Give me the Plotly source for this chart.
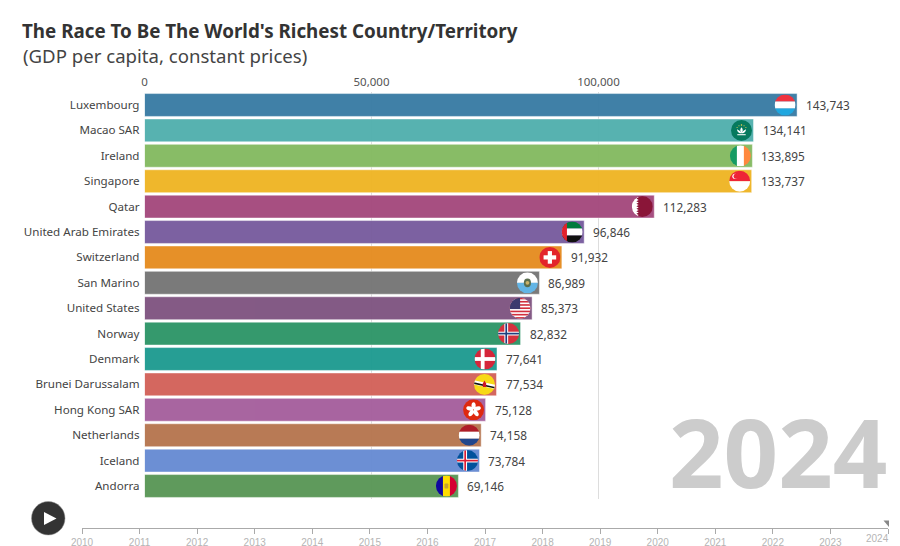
import base64
import plotly.graph_objects as go

countries = ['Luxembourg', 'Macao SAR', 'Ireland', 'Singapore', 'Qatar', 'United Arab Emirates',
             'Switzerland', 'San Marino', 'United States', 'Norway', 'Denmark', 'Brunei Darussalam',
             'Hong Kong SAR', 'Netherlands', 'Iceland', 'Andorra']
gdp = [143743, 134141, 133895, 133737, 112283, 96846, 91932, 86989,
       85373, 82832, 77641, 77534, 75128, 74158, 73784, 69146]
bar_colors = ['#3a7ca5', '#52b0ae', '#85ba62', '#efb526', '#a54a7d', '#785c9e', '#e68d22', '#767676',
              '#805582', '#2f9669', '#1f9b91', '#d3635a', '#a6609d', '#b67650', '#688cd3', '#5a9757']
years = list(range(2010, 2025))
axis_ticks = [0, 50000, 100000]

W, H = 900, 546
PX_PER_UNIT = 4.54 / 1000
TEXT = '#444444'
FONT = 'Noto Sans'


def stripes_h(*cols):
    h = 100 / len(cols)
    return ''.join(f'<rect y="{i * h}" width="100" height="{h + 0.5}" fill="{c}"/>' for i, c in enumerate(cols))


def stripes_v(*cols):
    w = 100 / len(cols)
    return ''.join(f'<rect x="{i * w}" width="{w + 0.5}" height="100" fill="{c}"/>' for i, c in enumerate(cols))


def nordic(bg, outer, inner=None):
    s = f'<rect width="100" height="100" fill="{bg}"/>'
    s += f'<rect x="30" width="18" height="100" fill="{outer}"/><rect y="41" width="100" height="18" fill="{outer}"/>'
    if inner:
        s += f'<rect x="35" width="8" height="100" fill="{inner}"/><rect y="46" width="100" height="8" fill="{inner}"/>'
    return s


us_stripes = ''.join(f'<rect y="{i * 15.4}" width="100" height="7.7" fill="#d22f3d"/>' for i in range(7))
flag_art = {
    'Luxembourg': stripes_h('#ef3340', '#ffffff', '#1fa7e0'),
    'Macao SAR': '<rect width="100" height="100" fill="#067a5e"/>'
                 '<path d="M50 35 C42 45 42 55 50 62 C58 55 58 45 50 35Z" fill="#fff"/>'
                 '<path d="M28 44 C30 58 40 64 50 64 C60 64 70 58 72 44 C62 48 56 54 50 60 C44 54 38 48 28 44Z" fill="#fff"/>'
                 '<rect x="30" y="68" width="40" height="5" fill="#fff"/>'
                 '<circle cx="50" cy="24" r="3.5" fill="#f7d84a"/><circle cx="38" cy="28" r="2.5" fill="#f7d84a"/>'
                 '<circle cx="62" cy="28" r="2.5" fill="#f7d84a"/><circle cx="29" cy="36" r="2.5" fill="#f7d84a"/>'
                 '<circle cx="71" cy="36" r="2.5" fill="#f7d84a"/>',
    'Ireland': stripes_v('#169b62', '#ffffff', '#ff883e'),
    'Singapore': stripes_h('#ee2536', '#ffffff')
                 + '<circle cx="28" cy="27" r="13" fill="#fff"/><circle cx="33" cy="27" r="12" fill="#ee2536"/>',
    'Qatar': '<rect width="100" height="100" fill="#8a1538"/>'
             '<path d="M0 0H22L33 6 22 12 33 18 22 24 33 30 22 36 33 42 22 48 33 54 22 60 33 66 22 72 33 78 22 84 33 90 22 100H0Z" fill="#fff"/>',
    'United Arab Emirates': stripes_h('#007a3d', '#ffffff', '#111111')
                            + '<rect width="25" height="100" fill="#e2202c"/>',
    'Switzerland': '<rect width="100" height="100" fill="#e3242b"/>'
                   '<rect x="40" y="20" width="20" height="60" fill="#fff"/><rect x="20" y="40" width="60" height="20" fill="#fff"/>',
    'San Marino': stripes_h('#ffffff', '#63b5e5')
                  + '<ellipse cx="50" cy="50" rx="17" ry="21" fill="#5a6e4e"/><circle cx="50" cy="50" r="9" fill="#c9b26a"/>',
    'United States': '<rect width="100" height="100" fill="#fff"/>' + us_stripes
                     + '<rect width="50" height="54" fill="#3c3b6e"/>',
    'Norway': nordic('#d5313d', '#ffffff', '#1f3f7f'),
    'Denmark': nordic('#d5263a', '#ffffff'),
    'Brunei Darussalam': '<rect width="100" height="100" fill="#f7d917"/>'
                         '<path d="M0 30 L100 52 V72 L0 50Z" fill="#fff"/><path d="M0 40 L100 62 V70 L0 48Z" fill="#111"/>'
                         '<path d="M50 32 L58 46 V62 H42 V46Z" fill="#cf1126"/>',
    'Hong Kong SAR': '<rect width="100" height="100" fill="#de2910"/>'
                     + ''.join(f'<ellipse cx="50" cy="31" rx="10" ry="17" fill="#fff" transform="rotate({a} 50 50)"/>'
                               for a in (0, 72, 144, 216, 288)),
    'Netherlands': stripes_h('#ae1c28', '#ffffff', '#21468b'),
    'Iceland': nordic('#02529c', '#ffffff', '#dc1e35'),
    'Andorra': stripes_v('#10069f', '#fedd00', '#d50032')
               + '<rect x="41" y="38" width="18" height="24" rx="4" fill="#c7a12e"/>',
}


def flag_uri(name):
    svg = ('<svg xmlns="http://www.w3.org/2000/svg" viewBox="0 0 100 100" width="100" height="100">'
           '<defs><clipPath id="c"><circle cx="50" cy="50" r="50"/></clipPath></defs>'
           f'<g clip-path="url(#c)">{flag_art[name]}</g></svg>')
    return 'data:image/svg+xml;base64,' + base64.b64encode(svg.encode()).decode()


# the page adds its own margin around the graph div, so work in page pixels minus that offset
PAGE_OFF = 8
FIG_W, FIG_H = W - 2 * PAGE_OFF, H - PAGE_OFF


def px(x):
    return (x - PAGE_OFF) / FIG_W


def py(y):
    return 1 - (y - PAGE_OFF) / FIG_H


bar_left, bar_right = 144.5, 885
top, bottom = 92.3, 498.7
x_max = (bar_right - bar_left) / PX_PER_UNIT

fig = go.Figure()
fig.add_trace(go.Bar(
    x=gdp,
    y=countries,
    orientation='h',
    marker=dict(color=bar_colors, opacity=0.97, line=dict(color='rgba(255,255,255,0.45)', width=1)),
    hoverinfo='skip',
))
# timeline along the bottom
fig.add_trace(go.Scatter(x=years, y=[0] * len(years), mode='none', xaxis='x2', yaxis='y2', hoverinfo='skip'))

annotations = [
    dict(text='(GDP per capita, constant prices)', xref='paper', yref='paper', x=px(20.5), y=py(56),
         xanchor='left', yanchor='middle', showarrow=False, font=dict(family=FONT, size=18.6, color=TEXT)),
    dict(text='2024', xref='paper', yref='paper', x=px(888.5), y=py(451), xanchor='right', yanchor='middle',
         showarrow=False, font=dict(family='Open Sans', size=95.5, color='#cccccc', weight='bold')),
    dict(text='2024', xref='x2', yref='paper', x=2024, y=py(538), xanchor='right', yanchor='middle', xshift=3,
         showarrow=False, font=dict(family='Liberation Sans', size=10, color='#b5b5b5')),
]
images = []
for name, val in zip(countries, gdp):
    annotations.append(dict(text=f'{val:,}', x=val, y=name, xref='x', yref='y', xanchor='left', yanchor='middle',
                            xshift=7, showarrow=False, font=dict(family=FONT, size=11.8, color=TEXT)))
    images.append(dict(source=flag_uri(name), x=val - 1.5 / PX_PER_UNIT, y=name, xref='x', yref='y',
                       xanchor='right', yanchor='middle', sizex=21 / PX_PER_UNIT, sizey=21 / 25.4,
                       sizing='stretch', layer='above'))

shapes = [
    dict(type='circle', xref='paper', yref='paper', x0=px(31.5), x1=px(65), y0=py(535), y1=py(501.5),
         fillcolor='#333333', line=dict(color='#999999', width=0.5)),
    dict(type='path', xref='paper', yref='paper', fillcolor='#ffffff', line=dict(width=0),
         path=f'M{px(44)},{py(512)} L{px(56.5)},{py(518.5)} L{px(44)},{py(525)}Z'),
    dict(type='path', xref='paper', yref='paper', fillcolor='#888888', line=dict(width=0),
         path=f'M{px(883.5)},{py(520.5)} L{px(889)},{py(520.5)} L{px(889)},{py(527)}Z'),
]

fig.update_layout(
    width=FIG_W, height=FIG_H,
    margin=dict(l=0, r=0, t=0, b=0, pad=0, autoexpand=False),
    paper_bgcolor='white',
    plot_bgcolor='white',
    showlegend=False,
    bargap=0.1,
    title=dict(text="<b>The Race To Be The World's Richest Country/Territory</b>", xref='paper', yref='paper',
               x=px(22), y=py(31), xanchor='left', yanchor='middle', automargin=False,
               font=dict(family=FONT, size=18.8, color='#333333')),
    xaxis=dict(domain=[px(bar_left), px(bar_right)], range=[0, x_max], side='top', tickvals=axis_ticks,
               tickformat=',', showgrid=True, gridcolor='#dddddd', gridwidth=1, zeroline=False, showline=False,
               ticks='', tickfont=dict(family=FONT, size=11.5, color='#555555'), ticklabelstandoff=3,
               anchor='y', automargin=False),
    yaxis=dict(domain=[py(bottom), py(top)], type='category', categoryorder='array', categoryarray=countries,
               autorange='reversed', showgrid=False, zeroline=False, showline=False, ticks='',
               tickfont=dict(family=FONT, size=11.6, color=TEXT), ticklabelstandoff=4, anchor='x', automargin=False),
    xaxis2=dict(domain=[px(82), px(888)], range=[2010, 2024], anchor='y2', side='bottom', tickvals=years,
                ticktext=[str(y) for y in years[:-1]] + [''], showgrid=False, zeroline=False, showline=True,
                linecolor='#aaaaaa', linewidth=1, ticks='outside', ticklen=5, tickcolor='#aaaaaa', automargin=False,
                tickfont=dict(family='Liberation Sans', size=10, color='#b5b5b5')),
    yaxis2=dict(domain=[py(527.5), py(515)], anchor='x2', visible=False),
    annotations=annotations,
    images=images,
    shapes=shapes,
)

fig.write_html("out.html")
